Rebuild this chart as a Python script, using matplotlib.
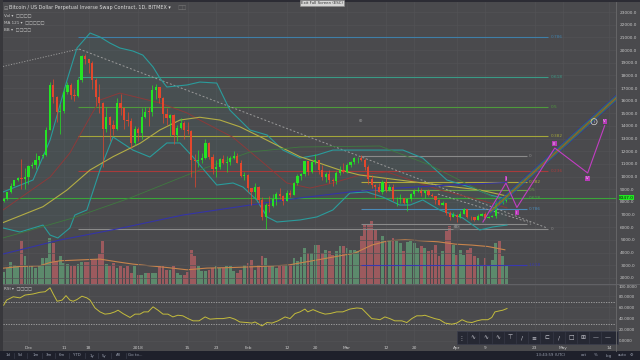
import matplotlib
matplotlib.use("Agg")
import matplotlib.pyplot as plt
import matplotlib.transforms as mtransforms
from matplotlib.patches import Rectangle, Polygon
from matplotlib.lines import Line2D
import numpy as np
import pandas as pd

# ---- data ----
dates = pd.date_range("2017-11-24", "2018-04-15", freq="D")
days = np.array((dates - pd.Timestamp("2017-12-01")).days)

first_open = 8050
closes = [8250, 8750, 9300, 9700, 9900, 9850, 9950,
          10850, 10900, 11300, 11600, 11700, 13700, 17200, 16300, 15100, 15200, 16700, 17240, 16450, 16350, 17630, 19500,
          19270, 19000, 17630, 16310, 15800, 13760, 14710, 14100, 13800, 15800, 15400, 14470, 14400, 12660, 13760,
          13450, 14730, 15130, 15100, 16840, 17050, 16200, 14980, 14600, 14900, 13300, 13850, 14200, 13650, 13600, 11300,
          11200, 11300, 11450, 12680, 11570, 10600, 10800, 11370, 11100, 11150, 11500, 11600, 11100, 10050, 10150,
          9100, 8800, 9200, 8160, 6840, 7760, 7700, 8240, 8600, 8500, 8100, 8700, 8550, 9500, 10050, 10200, 11240,
          10400, 11150, 11300, 10500, 9950, 10200, 9700, 9650, 10260, 10530, 10400,
          10920, 11160, 11450, 11480, 11300, 10760, 9840, 9320, 9180, 8800, 9550, 8920, 9150, 8200, 8250, 8300, 7900,
          8200, 8600, 8900, 8900, 8700, 8900, 8550, 8450, 8150, 7800, 7950, 7100, 6850, 6950,
          6800, 7050, 7420, 6800, 6780, 6600, 6900, 7020, 6770, 6830, 6930, 7920, 7890, 8050, 8350]
highs = [8350, 8800, 9500, 9750, 9980, 11400, 10650,
         10950, 11150, 11850, 11650, 11900, 13900, 17500, 17700, 16400, 15700, 17100, 17500, 17400, 16900, 17800, 19600,
         19700, 19300, 19100, 17800, 17300, 15900, 15500, 14800, 14500, 16200, 16500, 15500, 15100, 14600, 14000,
         13900, 15400, 15500, 15500, 17200, 17300, 17100, 16300, 15400, 14950, 14950, 14100, 14600, 14400, 14300, 13700,
         11800, 12100, 11900, 13000, 12750, 11800, 11300, 11500, 11700, 11600, 11600, 12000, 11900, 11300, 10400,
         10200, 9100, 9500, 9300, 8400, 7900, 8500, 8600, 8750, 9100, 8550, 8950, 8950, 9550, 10200, 10300, 11250,
         11250, 11250, 11780, 11300, 10950, 10400, 10500, 9900, 10450, 10850, 11050,
         11050, 11200, 11550, 11550, 11700, 11450, 10900, 10100, 9400, 9500, 9700, 9900, 9450, 9400, 8400, 8600, 8350,
         8300, 8700, 9050, 9150, 9100, 8950, 9000, 8700, 8500, 8250, 8100, 7950, 7300, 7200,
         7050, 7250, 7500, 7450, 6900, 6850, 7050, 7100, 7200, 6890, 6980, 8050, 8200, 8200, 8420]
lows = [7980, 8150, 8700, 9280, 9650, 9000, 9000,
        9450, 10700, 10600, 10900, 11450, 11650, 13700, 15800, 14300, 13400, 15000, 16500, 16100, 16000, 16300, 17500,
        18900, 18200, 16900, 15600, 15000, 10800, 13500, 12800, 13300, 13700, 14900, 13800, 14000, 12300, 12500,
        12800, 13000, 14600, 14000, 14800, 16100, 15800, 14200, 14100, 13200, 12600, 12800, 13800, 13000, 13400, 10000,
        9200, 10800, 11100, 11400, 11400, 10200, 10000, 10600, 11000, 10400, 10900, 11400, 11100, 10000, 9700,
        8800, 7800, 8300, 7900, 6600, 5900, 7200, 7600, 7750, 8200, 7800, 8100, 8400, 8550, 9350, 9700, 10050,
        10100, 10300, 11000, 10200, 9700, 9600, 9500, 9300, 9400, 10150, 10300,
        10300, 10800, 11000, 11050, 11250, 10550, 9450, 9100, 8350, 8750, 8600, 8800, 8850, 8050, 7700, 7900, 7850,
        7300, 8050, 8450, 8750, 8500, 8300, 8500, 8400, 7850, 7750, 7800, 6950, 6600, 6850,
        6450, 6750, 7050, 6700, 6600, 6500, 6600, 6900, 6650, 6700, 6800, 6750, 7800, 7850, 8000]
volumes = [12, 16, 22, 19, 18, 43, 28,
           18, 18, 16, 18, 26, 26, 46, 41, 23, 28, 21, 20, 18, 18, 20, 22, 22, 22, 24, 25, 30, 43, 20, 18, 21,
           16, 18, 16, 18, 11, 18,
           9, 9, 11, 11, 11, 11, 18, 18, 14, 14, 18, 11, 9, 9, 12, 34, 28, 18, 13, 13, 14, 16, 18, 16, 16, 18, 18,
           13, 11, 14, 19,
           21, 24, 14, 19, 28, 26, 18, 18, 16, 18, 19, 19, 19, 26, 23, 27, 36, 31, 31, 39, 39, 31, 34, 33, 29, 33,
           38, 38,
           36, 34, 34, 33, 48, 59, 59, 63, 54, 43, 48, 43, 44, 46, 44, 41, 33, 42, 43, 41, 36, 38, 36, 33, 34, 39,
           28, 33, 53, 58, 39,
           29, 34, 29, 34, 36, 28, 26, 19, 26, 18, 24, 41, 43, 28, 18]

vol_ma_days = [-8.1, -2.4, 3.2, 6.1, 8.9, 15.4, 20.2, 25.0, 29.5, 34.3, 39.1, 44.8, 50.4, 57.8, 65.4, 73.3,
               82.9, 92.2, 97.0, 101.6, 106.4, 111.2, 115.7, 120.5, 125.3, 129.8, 134.6]
vol_ma = [15, 17, 17.7, 21, 22.7, 23.7, 24.4, 21.7, 19.4, 17.7, 16, 13.7, 15.4, 16, 17, 18.4,
          24.4, 30.4, 38.4, 42.7, 43.7, 42.7, 41.7, 39.4, 38.4, 37, 33.7]

rsi_days = [-7, -6.2, -4.3, -2.4, -1.0, 1.3, 3.2, 4.7, 6.1, 6.9,
            8.1, 9.5, 10.6, 11.7, 12.6, 13.7, 15.1, 16.5, 17.4, 18.8,
            20.2, 21.6, 23.0, 24.4, 25.3, 26.7, 28.7, 30.1, 31.5, 32.6,
            33.8, 35.2, 36.6, 38.0, 39.4, 40.8, 42.2, 43.6, 45.1, 46.5,
            48.2, 49.9, 51.3, 53.2, 54.9, 56.9, 58.3, 59.7, 61.7, 63.1,
            64.0, 65.4, 66.0, 67.4, 68.8, 70.5, 72.5, 73.9, 75.3, 76.7,
            78.1, 78.9, 80.4, 82.3, 83.8, 85.2, 87.1, 88.8, 90.8, 92.8,
            94.2, 95.6, 97.0, 98.4, 99.3, 100.7, 102.1, 103.5, 105.5, 106.9,
            108.3, 109.7, 111.2, 112.0, 113.4, 114.8, 116.2, 117.7, 119.6, 121.0,
            122.5, 123.9, 125.3, 126.7, 128.1, 129.8, 130.9, 131.8, 133.2, 134.0, 135.2]
rsi_vals = [64, 73, 79, 77, 82, 84, 87, 88, 95, 85,
            71, 73, 81, 73, 71, 74, 80, 77, 73, 59,
            52, 48, 49, 52, 55, 49, 42, 48, 48, 52,
            52, 61, 55, 48, 48, 43, 46, 45, 40, 36,
            36, 43, 39, 40, 40, 42, 39, 34, 33, 32,
            34, 29, 27, 33, 32, 36, 43, 40, 49, 52,
            57, 52, 56, 51, 48, 49, 52, 52, 57, 59,
            58, 49, 40, 39, 38, 43, 40, 36, 36, 33,
            40, 45, 45, 46, 43, 40, 38, 32, 30, 32,
            38, 34, 33, 36, 38, 38, 42, 52, 54, 55, 58]

# bollinger bands and moving averages, traced as (day, price) points
bb_up_days = [-7.2, 1.3, 6.1, 8.9, 10.9, 13.7, 17.4, 20.2, 23.0, 25.8, 29.5, 32.3, 35.2, 37.1, 39.1, 44.8, 48.4,
              53.2, 56.9, 62.6, 67.4, 71.9, 76.7, 81.5, 86.0, 95.6, 105.8, 111.4, 118.2, 125.6, 130.4, 135.2]
bb_up = [8790, 9740, 12890, 15660, 17630, 20160, 21340, 21030, 20550, 20160, 19920, 19600, 18660, 17790, 17080,
         17240, 17470, 17390, 15260, 13680, 13290, 12100, 11470, 11710, 12100, 12100, 12100, 11470, 9740, 9100,
         8550, 8240]
bb_low_days = [-7.2, -2.4, 4.1, 6.1, 8.3, 11.7, 13.1, 16.5, 20.2, 23.9, 29.5, 34.3, 39.1, 42.8, 46.5, 48.4, 53.2,
               57.8, 60.6, 64.5, 67.4, 70.2, 76.7, 81.5, 86.0, 90.8, 95.6, 100.1, 104.9, 107.8, 111.4, 116.2, 122.7,
               127.5, 131.2, 135.2]
bb_low = [5950, 5630, 6180, 5390, 5160, 5950, 6970, 7370, 10530, 13130, 12100, 11550, 12660, 12660, 11550, 10920,
          9340, 9500, 9180, 8160, 6820, 6420, 6580, 6820, 7370, 8710, 8790, 8390, 7760, 7760, 8160, 7370, 6740,
          5790, 6030, 6180]
bb_mid_days = [-7.2, 6.1, 11.7, 17.4, 20.2, 25.8, 31.5, 37.1, 44.8, 48.4, 57.8, 65.4, 73.0, 79.5, 86.0, 93.6,
               101.3, 107.8, 116.2, 127.5, 135.2]
bb_mid = [7370, 9970, 11870, 14710, 16050, 16600, 16210, 15820, 15030, 14470, 13100, 11320, 9500, 9100, 9500,
          10130, 10370, 9740, 8950, 8160, 7530]
ma_yellow_days = [-7.2, 4.1, 10.9, 17.4, 23.9, 31.5, 37.1, 42.8, 48.4, 54.1, 59.7, 65.4, 71.0, 76.7, 82.3, 87.9,
                  93.6, 99.3, 108.6, 118.2, 127.5, 135.2]
ma_yellow = [6370, 7630, 8950, 10530, 11580, 12630, 13680, 14470, 14690, 14470, 13940, 13160, 12370, 11580, 11060,
             10530, 10130, 9930, 9600, 9260, 8950, 8470]
ma_green_days = [-7.2, 12.6, 28.7, 48.4, 62.6, 76.7, 99.3, 113.4, 131.2]
ma_green = [5160, 6740, 8320, 10530, 11950, 12340, 12420, 10920, 8390]
ma_blue_days = [-7.2, 8.9, 25.0, 43.6, 62.6, 76.7, 90.8, 104.9, 119.1, 135.2]
ma_blue = [3890, 5000, 5870, 6970, 7760, 8320, 8790, 9110, 9340, 9540]

# fibonacci drawings
fib_a_levels = ["0.786", "0.618", "0.5", "0.382", "0.236", "0"]
fib_a_prices = [21050, 17830, 15470, 13210, 10410, 5870]
fib_a_colors = ["#3f7fa8", "#3a9a86", "#4f9a3c", "#a4a63a", "#a83b3b", "#8a8a8a"]
fib_a_span = [14.0, 146.8]
fib_b_levels = ["0", "0.382", "0.5", "0.618", "0.786", "1", "1.618"]
fib_b_prices = [11630, 9580, 8950, 8340, 7450, 6300, 3030]
fib_b_colors = ["#8a8a8a", "#b0a83c", "#6aa046", "#44a844", "#4a8ab8", "#8a8a8a", "#3838b0"]
fib_b_span = [93.9, 140.8]

# trend lines and wave count
dot_days, dot_prices = [-7.2, 14.3], [18700, 20080]
dash_days, dash_prices = [14.3, 146.5], [20080, 5950]
dash2_days, dash2_prices = [115.7, 141.1], [8630, 6420]
channel_days = [130.4, 166.0]
channel_mid = [7250, 16210]
channel_offsets = [-200, -100, 0, 100, 200]
channel_colors = ["#2f3fb0", "#3aa03a", "#c8402e", "#3aa03a", "#2f3fb0"]
wave_days = [128.4, 134.9, 138.0, 148.7, 158.0, 162.8]
wave_prices = [6420, 9500, 7565, 12260, 10290, 14030]
wave_labels = ["", "I", "II", "III", "IV", "V"]

date_ticks = [0, 10, 17, 31, 45, 53, 62, 73, 81, 90, 101, 109, 121, 129, 143, 151, 164]
date_labels = ["Dec", "11", "18", "2018", "15", "23", "Feb", "12", "20", "Mar", "12", "20",
               "Apr", "9", "23", "May", "14"]
price_ticks = list(range(2000, 24000, 1000))
rsi_ticks = [0, 20, 40, 60, 80, 100]
last_price = 8347.0

# ---- style ----
BG = "#4a4a4d"
GRID = "#525255"
TXT = "#c8c8c8"
UP, DOWN = "#24e424", "#e4472c"
VUP, VDOWN = "#5c8a6c", "#9c5a5e"
FS = 3.1
W, H = 640, 360

fig = plt.figure(figsize=(6.4, 3.6), dpi=100)
fig.patch.set_facecolor(BG)


def px_axes(x0, y0, x1, y1):
    return fig.add_axes([x0 / W, 1 - y1 / H, (x1 - x0) / W, (y1 - y0) / H])


def ftext(x, y, s, **kw):
    kw.setdefault("fontsize", FS)
    kw.setdefault("color", TXT)
    kw.setdefault("va", "center")
    fig.text(x / W, 1 - y / H, s, **kw)


def fline(xs, ys, **kw):
    fig.add_artist(Line2D([x / W for x in xs], [1 - y / H for y in ys], **kw))


XLIM = (-7.2, 166.0)

# volume layer (drawn underneath the price axes)
axv = px_axes(3, 2, 616, 283.5)
axv.set_facecolor(BG)
axv.set_xlim(*XLIM)
axv.set_ylim(0, 281.5)
opens = np.array([first_open] + closes[:-1], dtype=float)
c = np.array(closes, dtype=float)
is_up = c >= opens
axv.bar(days, volumes, width=0.8, color=np.where(is_up, VUP, VDOWN), linewidth=0, zorder=2)
axv.plot(vol_ma_days, vol_ma, color="#c8844c", lw=0.8, zorder=3)
axv.axis("off")

# price axes
ax = px_axes(3, 2, 616, 283.5)
ax.patch.set_alpha(0)
ax.set_xlim(*XLIM)
ax.set_ylim(1565, 23790)
for s in ax.spines.values():
    s.set_visible(False)
ax.set_xticks(date_ticks)
ax.set_yticks(price_ticks)
ax.set_yticklabels([f"{p:.1f}" for p in price_ticks])
ax.yaxis.tick_right()
ax.tick_params(axis="y", length=0, pad=3.0, labelsize=FS, labelcolor=TXT)
ax.tick_params(axis="x", length=0, labelbottom=False)
ax.grid(True, color=GRID, lw=0.5, zorder=0)
ax.set_axisbelow(True)

# bollinger fill + lines
poly = list(zip(bb_up_days, bb_up)) + list(zip(bb_low_days, bb_low))[::-1]
ax.add_patch(Polygon(poly, closed=True, fc="#2aa0a0", ec="none", alpha=0.06, zorder=1))
ax.plot(bb_up_days, bb_up, color="#2a9c9c", lw=0.8, zorder=3)
ax.plot(bb_low_days, bb_low, color="#2a9c9c", lw=0.8, zorder=3)
ax.plot(bb_mid_days, bb_mid, color="#8c3a3a", lw=0.7, zorder=3)
ax.plot(ma_yellow_days, ma_yellow, color="#b3ad45", lw=0.8, zorder=3)
ax.plot(ma_green_days, ma_green, color="#3f7a3f", lw=0.6, zorder=3)
ax.plot(ma_blue_days, ma_blue, color="#3434a8", lw=0.8, zorder=3)

# fib A
ax.hlines(fib_a_prices, fib_a_span[0], fib_a_span[1], colors=fib_a_colors, lw=0.8, zorder=2)
for lab, p, col in zip(fib_a_levels, fib_a_prices, fib_a_colors):
    ax.text(fib_a_span[1] + 0.8, p, lab, color=col, fontsize=FS, va="center", ha="left", zorder=4)
# fib B
ax.hlines(fib_b_prices, fib_b_span[0], fib_b_span[1], colors=fib_b_colors, lw=0.8, zorder=2)
for lab, p, col in zip(fib_b_levels, fib_b_prices, fib_b_colors):
    ax.text(fib_b_span[1] + 0.6, p, lab, color=col, fontsize=FS, va="center", ha="left", zorder=4)
ax.axhline(fib_b_prices[3], color="#3aa53a", lw=0.8, zorder=2)

# trend lines
ax.plot(dot_days, dot_prices, color="#9a9a9a", lw=0.7, ls=(0, (1.2, 1.6)), zorder=2)
ax.plot(dash_days, dash_prices, color="#9a9a9a", lw=0.7, ls=(0, (2, 2)), zorder=2)
ax.plot(dash2_days, dash2_prices, color="#9a9a9a", lw=0.7, ls=(0, (2, 2)), zorder=2)

# candles
o = opens
hi = np.maximum(np.array(highs, dtype=float), np.maximum(o, c))
lo = np.minimum(np.array(lows, dtype=float), np.minimum(o, c))
cols = np.where(is_up, UP, DOWN)
ax.vlines(days, lo, hi, colors=cols, lw=0.5, zorder=5)
body = np.maximum(np.abs(c - o), 50)
ax.bar(days, body, bottom=np.minimum(o, c), width=0.62, color=cols, linewidth=0, zorder=6)

# channel and wave count
for off, col in zip(channel_offsets, channel_colors):
    ax.plot(channel_days, [m + off for m in channel_mid], color=col, lw=0.6, zorder=7)
ax.plot(wave_days, wave_prices, color="#c23ec2", lw=0.8, zorder=8)
for d, p, lab in zip(wave_days, wave_prices, wave_labels):
    if not lab:
        continue
    dy = 350 if lab in ("I", "III", "V") else -420
    ax.text(d, p + dy, lab, color="#f0d0f0", fontsize=2.8, ha="center", va="center", zorder=9,
            bbox=dict(boxstyle="square,pad=0.15", fc="#b83ab8", ec="none"))
ax.text(159.8, 14340, "i", color="#d8d8d8", fontsize=3.0, ha="center", va="center", zorder=9,
        bbox=dict(boxstyle="circle,pad=0.25", fc="none", ec="#d8d8d8", lw=0.5))
ax.text(93.9, 14390, "(I)", color="#a8a8a8", fontsize=FS, ha="center", va="center", zorder=4)
ax.text(121.0, 5990, "(II)", color="#a8a8a8", fontsize=FS, ha="center", va="center", zorder=4,
        bbox=dict(boxstyle="round,pad=0.1", fc="#5a5a5c", ec="none"))

# last price tag on the axis
tr = mtransforms.blended_transform_factory(ax.transAxes, ax.transData)
ax.text(1.005, fib_b_prices[3], f"{last_price:.1f}", transform=tr, fontsize=FS, color="#102010",
        va="center", ha="left", clip_on=False, zorder=10,
        bbox=dict(boxstyle="square,pad=0.12", fc="#22e622", ec="none"))

# RSI pane
axr = px_axes(3, 284.5, 616, 344)
axr.set_facecolor(BG)
axr.set_xlim(*XLIM)
axr.set_ylim(-5.36, 100.9)
for s in axr.spines.values():
    s.set_visible(False)
axr.plot(rsi_days, rsi_vals, color="#c4bc3c", lw=0.7, zorder=3)
axr.axhline(70, color="#a8a8a8", lw=0.6, ls=(0, (1.5, 1.5)), zorder=2)
axr.axhline(30, color="#a8a8a8", lw=0.6, ls=(0, (1.5, 1.5)), zorder=2)
axr.set_yticks(rsi_ticks)
axr.set_yticklabels([f"{v:.4f}" for v in rsi_ticks])
axr.yaxis.tick_right()
axr.set_xticks(date_ticks)
axr.set_xticklabels(date_labels)
axr.tick_params(axis="y", length=0, pad=2.2, labelsize=2.9, labelcolor=TXT)
axr.tick_params(axis="x", length=0, pad=1.2, labelsize=FS, labelcolor=TXT)
axr.get_yticklabels()[-1].set_va("top")
axr.grid(True, color=GRID, lw=0.5, zorder=0)
axr.set_axisbelow(True)

# frame lines and chrome
fig.add_artist(Rectangle((0, 1 - 2 / H), 1, 2 / H, transform=fig.transFigure, fc="#2c2c34", ec="none"))
fig.add_artist(Rectangle((0, 0), 2.5 / W, 1, transform=fig.transFigure, fc="#38383c", ec="none"))
fline([616, 616], [2, 351], color="#6a6a6c", lw=0.6)
fline([3, 640], [284, 284], color="#66666a", lw=0.6)
fig.add_artist(Rectangle((0, 0), 1, 9 / H, transform=fig.transFigure, fc="#1e202b", ec="none"))

ftext(4, 8, "\u229f", fontsize=3.6, color="#9a9a9a")
ftext(9, 8, "Bitcoin / US Dollar Perpetual Inverse Swap Contract, 1D, BITMEX \u25be", fontsize=3.5, color="#dcdcdc")
ftext(178, 8, "\u25a1\u25a1", fontsize=3.5, color="#7a7a7a")
ftext(4, 15, "Vol \u25be  \u25a1\u25a1\u25a1\u25a1", fontsize=3.0)
ftext(4, 22, "MA 121 \u25be  \u25a1\u25a1\u25a1\u25a1\u25a1", fontsize=3.0)
ftext(4, 29, "BB \u25be  \u25a1\u25a1\u25a1\u25a1", fontsize=3.0)
ftext(4, 288, "RSI \u25be  \u25a1\u25a1\u25a1\u25a1", fontsize=3.0)
fig.text(322 / W, 1 - 3 / H, "Exit Full Screen (ESC)", fontsize=2.8, color="#303030", ha="center", va="center",
         bbox=dict(boxstyle="square,pad=0.25", fc="#d4d4d4", ec="#8a8a8a", lw=0.4))

# bottom toolbar
for x, s in zip([8, 20, 36, 49, 62, 77, 92, 104, 118, 135],
                ["1d", "5d", "1m", "3m", "6m", "YTD", "1y", "5y", "All", "Go to..."]):
    ftext(x, 355.5, s, fontsize=2.8, color="#9aa0b0", ha="center")
for x in [14, 27, 42, 55, 69, 85, 98, 111, 126]:
    fline([x, x], [353, 358], color="#3a3d4c", lw=0.5)
for x, s in zip([551, 584, 596, 609, 622, 631],
                ["13:43:59 (UTC)", "ext", "%", "log", "auto", "\u2699"]):
    ftext(x, 355.5, s, fontsize=2.8, color="#9aa0b0", ha="center")

# floating drawing toolbar
fig.add_artist(Rectangle((457 / W, 1 - 344 / H), 161 / W, 13 / H, transform=fig.transFigure,
                         fc="#262833", ec="#3a3d4c", lw=0.5))
icons = ["\u22ee", "\u223f", "\u223f", "\u223f", "\u22a4", "/", "\u2261", "\u228f", "/", "\u25a1",
         "\u229e", "\u2014", "\u2014"]
for i, g in enumerate(icons):
    x = 461 + i * 12.2
    ftext(x, 337.5, g, fontsize=4.2, color="#c8c8d0", ha="center")
    if i:
        fline([x - 6.1, x - 6.1], [332, 343], color="#3a3d4c", lw=0.4)

fig.savefig("out.png", dpi=100, facecolor=fig.get_facecolor())
